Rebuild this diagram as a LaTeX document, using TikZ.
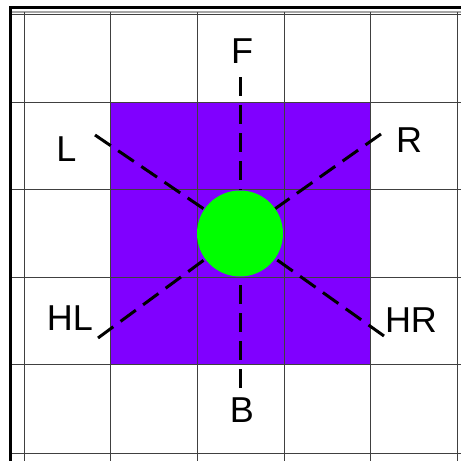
\documentclass[tikz,border=0pt]{standalone}
\usepackage{fontspec}
\setsansfont{Liberation Sans}
\usetikzlibrary{positioning}
\definecolor{fieldviolet}{RGB}{128,0,255}
\definecolor{ballgreen}{RGB}{0,255,0}

\begin{document}
\begin{tikzpicture}[x=1pt,y=-1pt,
  gridline/.style={draw=black!75,line width=1pt},
  frame/.style={draw=black,line width=3pt},
  ray/.style={draw=black,line width=3pt,dash pattern=on 19pt off 9pt},
  lbl/.style={font=\sffamily\fontsize{36}{40}\selectfont,inner sep=0pt},
  ball/.style={circle,fill=ballgreen,minimum size=86pt,inner sep=0pt}]

\useasboundingbox (0,0) rectangle (461,461);
\fill[white] (0,0) rectangle (461,461);
\fill[fieldviolet] (110.5,102) rectangle (370.5,364.5);

% outer frame
\draw[frame] (9,7.5) -- (461,7.5);
\draw[frame] (10.5,6) -- (10.5,461);
\draw[black!35,line width=1.2pt] (12,12) -- (461,12);

% grid
\foreach \gx in {24,110.5,197.5,284,370.5,457}
  \draw[gridline] (\gx,12) -- (\gx,461);
\foreach \gy in {14.5,102,189.5,277,364.5,453}
  \draw[gridline] (12,\gy) -- (461,\gy);

\node[ball] (ball) at (240,233.5) {};

\coordinate (tipF)  at (240,77);
\coordinate (tipB)  at (240,388);
\coordinate (tipL)  at (95,135);
\coordinate (tipR)  at (381,134);
\coordinate (tipHL) at (98,338);
\coordinate (tipHR) at (384,336);

\draw[ray] (tipF)  -- (ball);
\draw[ray] (tipB)  -- (ball);
\draw[ray] (tipL)  -- (ball);
\draw[ray] (tipR)  -- (ball);
\draw[ray] (tipHL) -- (ball);
\draw[ray] (tipHR) -- (ball);

\node[lbl] (labF)  at (242,51.5) {F};
\node[lbl] (labB)  at (242,410)  {B};
\node[lbl] (labL)  at (66.5,149) {L};
\node[lbl] (labR)  at (409,140)  {R};
\node[lbl] (labHL) at (70,318)   {HL};
\node[lbl] (labHR) at (411,320)  {HR};
\end{tikzpicture}
\end{document}
